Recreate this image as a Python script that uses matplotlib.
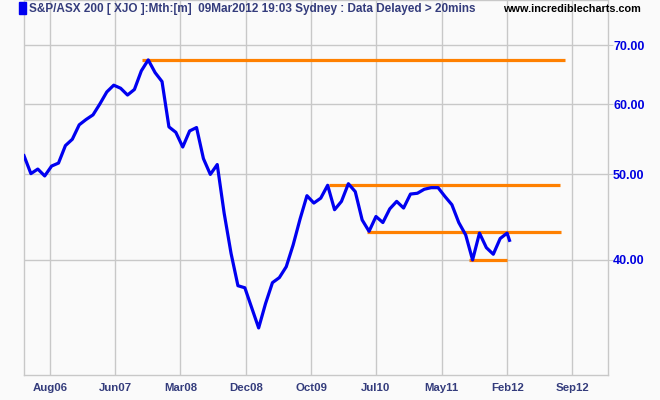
import matplotlib
matplotlib.use("Agg")
import matplotlib.pyplot as plt
from matplotlib.patches import Rectangle
from matplotlib.ticker import FixedLocator, NullLocator

# XJO monthly close, Apr 2006 .. Mar 2012 (hundreds of points)
closes = [52.5, 50.1, 50.7, 49.8, 51.1, 51.5, 53.9, 54.8, 56.9, 57.7, 58.4, 60.1,
          62.0, 63.1, 62.6, 61.5, 62.4, 65.5, 67.4, 65.2, 63.7, 56.6, 55.8, 53.7,
          56.0, 56.5, 52.1, 50.0, 51.3, 45.2, 40.7, 37.4, 37.2, 35.3, 33.5, 35.7,
          37.7, 38.2, 39.3, 41.6, 44.5, 47.3, 46.4, 47.0, 48.6, 45.6, 46.6, 48.8,
          47.8, 44.4, 43.1, 44.8, 44.1, 45.7, 46.6, 45.8, 47.5, 47.6, 48.1, 48.3,
          48.3, 47.2, 46.2, 44.1, 42.7, 40.0, 42.9, 41.3, 40.6, 42.3, 42.9, 42.1]
# months since Apr 2006; the last bar is the part month up to 9 Mar 2012
months = list(range(len(closes) - 1)) + [70.35]

# support / resistance levels (value, from month, to month)
levels = [67.4, 48.6, 43.0, 40.0]
level_from = [17.06, 44.2, 49.77, 64.49]
level_to = [78.36, 77.64, 77.88, 70.0]

xtick_labels = ["Aug06", "Jun07", "Mar08", "Dec08", "Oct09", "Jul10", "May11", "Feb12", "Sep12"]
xtick_pos = [3.80, 13.19, 22.65, 32.16, 41.61, 51.01, 60.52, 70.04, 79.43]
yticks = [40, 50, 60, 70]

bg = "#fafafa"
grid = "#c8c8c8"
navy = "#343c7c"

fig = plt.figure(figsize=(6.6, 4.0), dpi=100, facecolor=bg)
ax = fig.add_axes([24 / 660, 25 / 400, 583.5 / 660, 375 / 400], facecolor=bg)

for v, a, b in zip(levels, level_from, level_to):
    ax.plot([a, b], [v, v], color="#ff8000", lw=2.3, solid_capstyle="butt", zorder=2)
ax.plot(months, closes, color="#0000f0", lw=2.3, zorder=3)

ax.set_yscale("log")
ax.set_ylim(29.63, 78.8)
ax.set_xlim(0, 84.55)

ax.yaxis.set_major_locator(FixedLocator(yticks))
ax.yaxis.set_minor_locator(NullLocator())
ax.set_yticklabels(["%.2f" % t for t in yticks])
ax.yaxis.tick_right()
ax.tick_params(axis="y", length=3.5, color=grid, labelcolor="#0000e0", labelsize=9, pad=0.5)
for lbl in ax.get_yticklabels():
    lbl.set_fontweight("bold")
    lbl.set_family("Liberation Sans")

ax.set_xticks(xtick_pos)
ax.set_xticklabels(xtick_labels)
ax.tick_params(axis="x", length=0, labelcolor=navy, labelsize=8.2, pad=6)
for lbl in ax.get_xticklabels():
    lbl.set_fontweight("bold")
    lbl.set_family("Liberation Sans")

ax.grid(True, color=grid, lw=1.0)
ax.set_axisbelow(True)
for s in ax.spines.values():
    s.set_color(grid)
    s.set_linewidth(1.0)

fig.add_artist(Rectangle((19 / 660, 1 - 14 / 400), 6.5 / 660, 12 / 400,
                         transform=fig.transFigure, color="#0000f0"))
fig.text(29 / 660, 1 - 9 / 400,
         "S&P/ASX 200 [ XJO ]:Mth:[m]  09Mar2012 19:03 Sydney : Data Delayed > 20mins",
         color=navy, fontsize=8.5, fontweight="bold", va="center", ha="left",
         family="Liberation Sans")
fig.text(641 / 660, 1 - 9 / 400, "www.incrediblecharts.com", color="black",
         fontsize=7.8, fontweight="bold", va="center", ha="right", family="Liberation Sans")

fig.savefig("out.png", dpi=100, facecolor=bg)
